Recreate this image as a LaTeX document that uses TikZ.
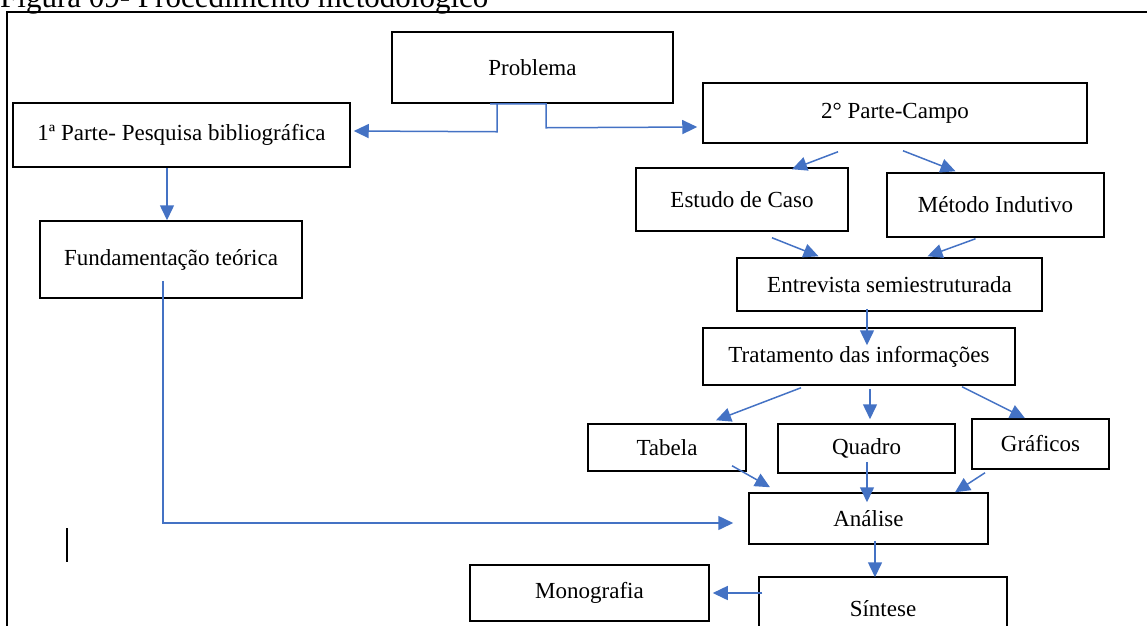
\documentclass[tikz,border=0pt]{standalone}
\usepackage{fontspec}
\setmainfont{Liberation Serif}
\usepackage{tikz}
\usetikzlibrary{arrows.meta,calc}
\definecolor{azul}{HTML}{4472C4}

\begin{document}
\begin{tikzpicture}[x=1pt, y=-1pt]
\tikzstyle{caixa} = [draw, rectangle, line width=1.5pt, inner sep=0pt, font=\fontsize{23}{27}\selectfont]
\tikzstyle{seta} = [draw=azul, line width=1.5pt, -{Triangle[length=15pt,width=14pt]}]
\useasboundingbox (0,0) rectangle (1147,625);

% legenda e moldura
\node[anchor=base west, inner sep=0pt, font=\fontsize{31}{36}\selectfont] (titulo) at (0,7) {Figura 09- Procedimento metodológico};
\draw[line width=2pt] (7,650) -- (7,12) -- (1170,12);
\draw[line width=1.5pt] (67,528) -- (67,562);

\node[caixa, minimum width=281pt, minimum height=71pt] (prob) at (532.5,67.5) {Problema};
\node[caixa, minimum width=337pt, minimum height=64pt] (parte1) at (181.5,135) {1ª Parte- Pesquisa bibliográfica};
\node[caixa, minimum width=384pt, minimum height=60pt] (parte2) at (895,113) {2° Parte-Campo};
\node[caixa, minimum width=262pt, minimum height=77pt] (fund) at (171,259.5) {Fundamentação teórica};
\node[caixa, minimum width=212pt, minimum height=63pt] (estudo) at (742,199.5) {Estudo de Caso};
\node[caixa, minimum width=217pt, minimum height=64pt] (metodo) at (995.5,205) {Método Indutivo};
\node[caixa, minimum width=305pt, minimum height=53pt] (entrev) at (889.5,284.5) {Entrevista semiestruturada};
\node[caixa, minimum width=312pt, minimum height=57pt] (trat) at (859,356.5) {Tratamento das informações};
\node[caixa, minimum width=158pt, minimum height=47pt] (tabela) at (667,447.5) {Tabela};
\node[caixa, minimum width=177pt, minimum height=49pt] (quadro) at (866.5,448.5) {Quadro};
\node[caixa, minimum width=137pt, minimum height=50pt] (graf) at (1040.5,444) {Gráficos};
\node[caixa, minimum width=239pt, minimum height=51pt] (analise) at (868.5,518.5) {Análise};
\node[caixa, minimum width=248pt, minimum height=63pt] (sintese) at (883,608.5) {Síntese};
\node[caixa, minimum width=239pt, minimum height=56pt] (mono) at (589.5,593) {Monografia};

% problema -> partes
\draw [seta] ($(prob.south)+(-42.5,0)$) -- ($(prob.south)+(-35.5,0)$) -- ($(prob.south)+(-35.5,28)$) -- ($(parte1.east)+(3,-4)$);
\draw [seta] ($(prob.south)+(-35.5,0)$) -- ($(prob.south)+(13.5,0)$) -- ($(prob.south)+(13.5,24)$) -- ($(parte2.west)+(-5,14)$);

\draw [seta] ($(parte1.south)+(-14.5,0)$) -- ($(fund.north)+(-4,0)$);
\draw [seta] ($(fund.south)+(-8,-18)$) |- ($(analise.west)+(-15,4.5)$);

\draw [seta] ($(parte2.south)+(-57,8)$) -- ($(estudo.north)+(50,2)$);
\draw [seta] ($(parte2.south)+(8,7)$) -- ($(metodo.north)+(-40,-1)$);
\draw [seta] ($(estudo.south)+(30,6)$) -- ($(entrev.north)+(-71,-1)$);
\draw [seta] ($(metodo.south)+(-20,1)$) -- ($(entrev.north)+(38,-1)$);
\draw [seta] ($(entrev.south)+(-22.5,-3)$) -- ($(trat.north)+(8,18)$);

\draw [seta] ($(trat.south)+(-58,2)$) -- ($(tabela.north)+(49,-3)$);
\draw [seta] ($(trat.south)+(11,3)$) -- ($(quadro.north)+(3.5,-4)$);
\draw [seta] ($(trat.south)+(103,1)$) -- ($(graf.north)+(-15.5,0)$);

\draw [seta] ($(tabela.south)+(65,-6)$) -- ($(analise.north)+(-98.5,-5)$);
\draw [seta] ($(quadro.south)+(0.5,-12)$) -- ($(analise.north)+(-1.5,10)$);
\draw [seta] ($(graf.south)+(-55.5,3)$) -- ($(analise.north)+(86.5,0)$);

\draw [seta] ($(analise.south)+(6.5,-4)$) -- ($(sintese.north)+(-8,1)$);
\draw [seta] ($(sintese.west)+(4,-15.5)$) -- ($(mono.east)+(3,0)$);
\end{tikzpicture}
\end{document}
